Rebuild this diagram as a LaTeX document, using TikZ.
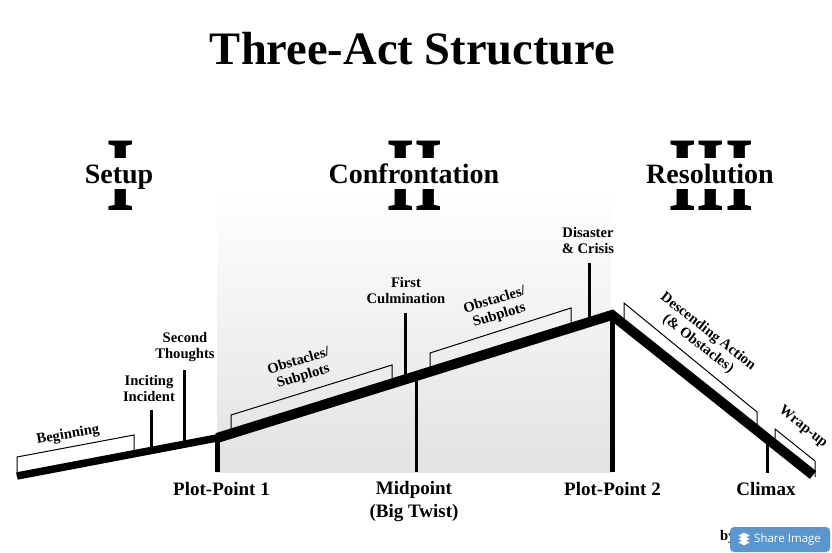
\documentclass[tikz,border=0pt]{standalone}
\usepackage{fontspec}
\setmainfont{Liberation Serif}
\newfontfamily\btnfont{Open Sans}
\definecolor{mygray}{RGB}{226,226,226}
\definecolor{myblue}{RGB}{91,151,207}
\begin{document}
\begin{tikzpicture}[x=1pt, y=-1pt,
	spine/.style={line width=10pt, line join=miter},
	tick/.style={line width=3pt},
	mark line/.style={line width=5pt},
	bracket/.style={line width=1pt},
	small/.style={font=\fontsize{14.6}{16}\selectfont\bfseries, align=center, inner sep=0pt},
	big/.style={font=\fontsize{19}{23}\selectfont\bfseries, align=center, inner sep=0pt},
	act/.style={font=\fontsize{28}{30}\selectfont\bfseries, fill=white, inner xsep=1pt, inner ysep=0pt, text height=25pt, text depth=6pt},
	numeral/.style={font=\fontsize{106}{106}\selectfont\bfseries, inner sep=0pt, anchor=base}]
	\useasboundingbox (0,0) rectangle (832,553);
	% Hintergrund
	\shade[top color=white, bottom color=mygray] (217,190) rectangle (611,472);
	% Titel
	\node[font=\fontsize{46.5}{50}\selectfont\bfseries, inner sep=0pt] (title) at (412.5,49) {Three-Act Structure};
	% Akte
	\node[numeral, xscale=0.69] (num1) at (121,211) {I};
	\node[numeral, xscale=0.69] (num2) at (415,211) {II};
	\node[numeral, xscale=0.69] (num3) at (711,211) {III};
	\node[act] (setup) at (119,174) {Setup};
	\node[act] (confrontation) at (414,174) {Confrontation};
	\node[act] (resolution) at (710,174) {Resolution};
	% Punkte auf der Linie
	\coordinate (start) at (17,476);
	\coordinate (pp1) at (217,438);
	\coordinate (peak) at (612,315);
	\coordinate (end) at (813,475);
	\coordinate (mid) at (416,375);
	\coordinate (culm) at (405,378);
	\coordinate (incite) at (151,450);
	\coordinate (second) at (184.5,444);
	\coordinate (crisis) at (589,322);
	\coordinate (climax) at (767,441);
	% Klammern
	\draw[bracket] (17,476) -- (17,457) -- (134,435) -- (134,454);
	\draw[bracket] (231,432) -- (231,415) -- (392,365) -- (392,384);
	\draw[bracket] (430,370) -- (430,353) -- (571,308) -- (571,326);
	\draw[bracket] (624,324) -- (624,303) -- (757,412) -- (757,432);
	\draw[bracket] (775,446) -- (775,429) -- (815,461) -- (815,477);
	% Striche
	\draw[tick] (incite) -- ++(0,-40);
	\draw[tick] (second) -- ++(0,-74);
	\draw[tick] (culm) -- ++(0,-65);
	\draw[tick] (crisis) -- ++(0,-59);
	\draw[tick] (mid) -- ++(0,97);
	\draw[tick] (climax) -- ++(0,32);
	\draw[mark line] (pp1) -- ++(0,34);
	\draw[mark line] (peak) -- ++(0,157);
	% Linie
	\draw[line width=7.5pt] (start) -- (pp1);
	\draw[spine] (pp1) -- (peak) -- (end);
	% Beschriftung oben
	\node[small, rotate=10] (beginning) at (68,435) {Beginning};
	\node[small] (inciting) at (149,389) {Inciting\\Incident};
	\node[small] (thoughts) at (185,347) {Second\\Thoughts};
	\node[small, rotate=17] (obstacles1) at (301,369) {Obstacles/\\Subplots};
	\node[small] (culmination) at (406,290.5) {First\\Culmination};
	\node[small, rotate=17] (obstacles2) at (497,308) {Obstacles/\\Subplots};
	\node[small] (disaster) at (588,241) {Disaster\\\& Crisis};
	\node[small, rotate=-38] (descending) at (703,338) {Descending Action\\(\& Obstacles)};
	\node[small, rotate=-38] (wrapup) at (803,427) {Wrap-up};
	% Beschriftung unten
	\node[big] (plot1) at (221.5,489) {Plot-Point 1};
	\node[big] (midpoint) at (414,502) {Midpoint\\(Big Twist)};
	\node[big] (plot2) at (612.5,489) {Plot-Point 2};
	\node[big] (climaxlabel) at (766,489) {Climax};
	% Knopf
	\node[small, anchor=west] (by) at (720,537) {by};
	\node[fill=myblue, rounded corners=4pt, minimum width=100pt, minimum height=25pt, inner sep=0pt] (share) at (780,539.5) {};
	\node[font=\fontsize{11.5}{14}\btnfont\selectfont, text=white, inner sep=0pt, anchor=west] (sharetext) at (754,539.5) {Share Image};
	\foreach \y in {535.5,539,542.5}
		\draw[white, fill=white, line width=.5pt] (744,\y-2.5) -- (749,\y) -- (744,\y+2.5) -- (739,\y) -- cycle;
\end{tikzpicture}
\end{document}
